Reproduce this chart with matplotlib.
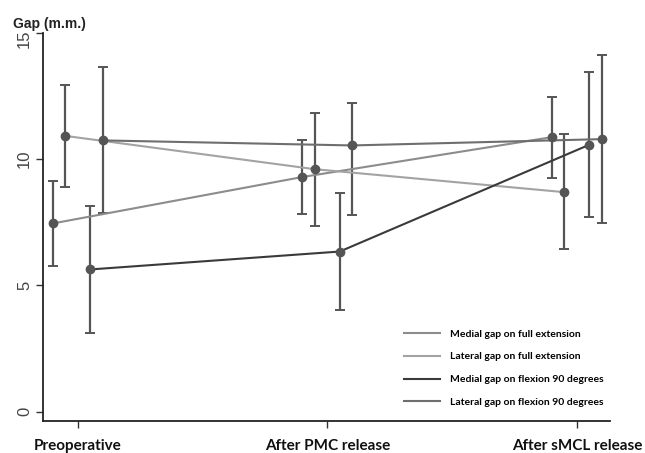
import matplotlib.pyplot as plt
from matplotlib.lines import Line2D
from matplotlib.transforms import ScaledTranslation

# stages on the x axis
stages = ['Preoperative', 'After PMC release', 'After sMCL release']

# series names (legend order)
series_names = ['Medial gap on full extension',
                'Lateral gap on full extension',
                'Medial gap on flexion 90 degrees',
                'Lateral gap on flexion 90 degrees']

# mean gap values (mm)
medial_ext = [7.45, 9.29, 10.87]
lateral_ext = [10.92, 9.60, 8.69]
medial_flex = [5.63, 6.34, 10.57]
lateral_flex = [10.74, 10.54, 10.79]

# error bar ends (upper / lower)
medial_ext_hi = [9.14, 10.74, 12.46]
medial_ext_lo = [5.77, 7.83, 9.26]
lateral_ext_hi = [12.92, 11.81, 10.99]
lateral_ext_lo = [8.90, 7.37, 6.45]
medial_flex_hi = [8.15, 8.66, 13.45]
medial_flex_lo = [3.13, 4.03, 7.69]
lateral_flex_hi = [13.66, 12.23, 14.12]
lateral_flex_lo = [7.86, 7.80, 7.48]

line_colors = ['#8c8c8c', '#a3a3a3', '#3a3a3a', '#6e6e6e']
point_color = '#555555'
offsets = [-0.1, -0.05, 0.05, 0.1]


def main():
    fig = plt.figure(figsize=(6.45, 4.53), dpi=100)
    ax = fig.add_axes([0.066, 0.0706, 0.88, 0.857])

    means = [medial_ext, lateral_ext, medial_flex, lateral_flex]
    highs = [medial_ext_hi, lateral_ext_hi, medial_flex_hi, lateral_flex_hi]
    lows = [medial_ext_lo, lateral_ext_lo, medial_flex_lo, lateral_flex_lo]

    handles = []
    for i in range(4):
        xs = [k + offsets[i] for k in range(len(stages))]
        ys = means[i]
        err = [[y - lo for y, lo in zip(ys, lows[i])],
               [hi - y for y, hi in zip(ys, highs[i])]]
        ax.errorbar(xs, ys, yerr=err, fmt='none', ecolor=point_color,
                    elinewidth=1.6, capsize=3.5, capthick=1.4, zorder=2)
        ax.plot(xs, ys, color=line_colors[i], lw=1.5, zorder=3)
        ax.plot(xs, ys, 'o', color=point_color, ms=6, zorder=4)
        handles.append(Line2D([0], [0], color=line_colors[i], lw=1.5))

    ax.set_xlim(-0.14, 2.133)
    ax.set_ylim(-0.37, 15)
    ax.spines['top'].set_visible(False)
    ax.spines['right'].set_visible(False)
    for s in ['left', 'bottom']:
        ax.spines[s].set_linewidth(1.3)
        ax.spines[s].set_color('#222222')

    ax.set_xticks(range(len(stages)))
    ax.set_xticklabels(stages, fontfamily='Lato', fontweight='bold',
                       fontsize=11, color='#111111')
    ax.set_yticks([0, 5, 10, 15])
    ax.set_yticklabels(['0', '5', '10', '15'], rotation=90, va='center',
                       fontfamily='Liberation Sans', fontsize=12, color='#444444')
    ax.tick_params(axis='x', length=5, width=1, pad=8, color='#333333')
    ax.tick_params(axis='y', length=5, width=1, pad=2.5, color='#333333')
    # top label sits a little below its tick, as in the original
    top_lab = ax.get_yticklabels()[-1]
    top_lab.set_transform(top_lab.get_transform() +
                          ScaledTranslation(0, -6 / 100, fig.dpi_scale_trans))

    fig.text(0.02, 0.938, 'Gap (m.m.)', fontfamily='Liberation Sans',
             fontweight='bold', fontsize=10, color='#222222', va='baseline')

    ax.legend(handles, series_names, loc='upper left',
              bbox_to_anchor=(0.627, 0.273), bbox_transform=fig.transFigure,
              frameon=False, prop={'family': 'Lato', 'weight': 'bold', 'size': 7.5},
              handlelength=3.4, handletextpad=1.0, labelspacing=1.3,
              borderpad=0, borderaxespad=0)

    fig.savefig('out.png', dpi=100)


if __name__ == "__main__":
    main()
